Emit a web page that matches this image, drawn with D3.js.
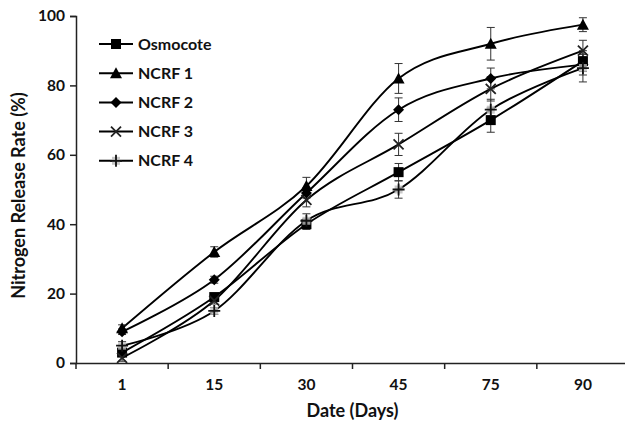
<!DOCTYPE html>
<html>
<head>
<meta charset="utf-8">
<script src="https://cdn.jsdelivr.net/npm/d3@7"></script>
<style>
  body { margin: 0; background: #fff; }
  text { font-family: Lato, "Open Sans", sans-serif; font-weight: bold; fill: #111; }
</style>
</head>
<body>
<div id="chart"></div>
<script>
// categories and series
const days = ['1', '15', '30', '45', '75', '90'];
const seriesNames = ['Osmocote', 'NCRF 1', 'NCRF 2', 'NCRF 3', 'NCRF 4'];
const osmocote = [3, 19, 40, 55, 70, 87];
const ncrf1 = [10, 32, 51, 82, 92, 97.5];
const ncrf2 = [9, 24, 49, 73, 82, 86];
const ncrf3 = [1.5, 18, 47, 63, 79, 90];
const ncrf4 = [5, 15, 41, 50, 73, 85];
// standard errors
const osmocoteErr = [1, 1, 1.5, 2.5, 3.5, 3];
const ncrf1Err = [1, 1.5, 2.5, 4.3, 4.7, 2];
const ncrf2Err = [0.8, 1, 1.5, 3.4, 3, 3];
const ncrf3Err = [1, 1, 2, 3.2, 3.5, 3];
const ncrf4Err = [1.2, 1, 2, 2.5, 3, 4];
const yTicks = [0, 20, 40, 60, 80, 100];

const values = [osmocote, ncrf1, ncrf2, ncrf3, ncrf4];
const errors = [osmocoteErr, ncrf1Err, ncrf2Err, ncrf3Err, ncrf4Err];
const series = seriesNames.map((name, i) => ({
  name: name,
  points: days.map((d, j) => ({ day: d, y: values[i][j], err: errors[i][j] }))
}));

const width = 625, height = 427;
const margin = { left: 76, right: -4, top: 16, bottom: 64 };

const svg = d3.select('#chart').append('svg')
  .attr('width', width)
  .attr('height', height);

const x = d3.scaleBand()
  .domain(days)
  .range([margin.left, width - margin.right]);

const y = d3.scaleLinear()
  .domain([0, 100])
  .range([height - margin.bottom, margin.top]);

const cx = d => x(d) + x.bandwidth() / 2;

// axes
const yAxis = svg.append('g')
  .attr('transform', `translate(${margin.left},0)`)
  .call(d3.axisLeft(y).tickValues(yTicks).tickSize(6).tickPadding(5));

const xAxis = svg.append('g')
  .attr('transform', `translate(0,${y(0)})`)
  .call(d3.axisBottom(x).tickSize(0).tickPadding(16));

// tick marks sit between the categories
xAxis.selectAll('.tick-between')
  .data(days.slice(1).concat(['__start']))
  .enter().append('line')
  .attr('x1', d => d === '__start' ? margin.left : x(d))
  .attr('x2', d => d === '__start' ? margin.left : x(d))
  .attr('y1', 0)
  .attr('y2', 6)
  .attr('stroke', '#222')
  .attr('stroke-width', 1.5);

svg.selectAll('.domain').attr('stroke', '#222').attr('stroke-width', 1.5);
yAxis.selectAll('.tick line').attr('stroke', '#222').attr('stroke-width', 1.5);
svg.selectAll('.tick text').style('font-size', '15.5px').attr('fill', '#111');

// axis titles
svg.append('text')
  .attr('x', (margin.left + width - margin.right) / 2)
  .attr('y', 417)
  .attr('text-anchor', 'middle')
  .style('font-size', '18px')
  .text('Date (Days)');

svg.append('text')
  .attr('transform', `translate(25,${(y(0) + y(100)) / 2 + 6}) rotate(-90)`)
  .attr('text-anchor', 'middle')
  .style('font-size', '18px')
  .text('Nitrogen Release Rate (%)');

// lines
const line = d3.line()
  .x(p => cx(p.day))
  .y(p => y(p.y))
  .curve(d3.curveCardinal.tension(0));

svg.append('g').selectAll('path')
  .data(series)
  .enter().append('path')
  .attr('d', s => line(s.points))
  .attr('fill', 'none')
  .attr('stroke', '#000')
  .attr('stroke-width', 1.9);

// error bars
const errG = svg.append('g')
  .attr('stroke', '#333')
  .attr('stroke-width', 1);

series.forEach(s => {
  s.points.forEach(p => {
    const px = cx(p.day), top = y(p.y + p.err), bot = y(p.y - p.err);
    errG.append('line').attr('x1', px).attr('x2', px).attr('y1', top).attr('y2', bot);
    errG.append('line').attr('x1', px - 4).attr('x2', px + 4).attr('y1', top).attr('y2', top);
    errG.append('line').attr('x1', px - 4).attr('x2', px + 4).attr('y1', bot).attr('y2', bot);
  });
});

// markers
function drawMarker(g, i) {
  if (i === 0) {
    g.append('rect').attr('x', -5).attr('y', -5).attr('width', 10).attr('height', 10).attr('fill', '#000');
  } else if (i === 1) {
    g.append('path').attr('d', 'M0,-6L6,5L-6,5Z').attr('fill', '#000');
  } else if (i === 2) {
    g.append('path').attr('d', 'M0,-5.5L5.5,0L0,5.5L-5.5,0Z').attr('fill', '#000');
  } else if (i === 3) {
    g.append('path').attr('d', 'M-5,-5L5,5M-5,5L5,-5').attr('stroke', '#222').attr('stroke-width', 1.8).attr('fill', 'none');
  } else {
    g.append('rect').attr('x', -4).attr('y', -4).attr('width', 8).attr('height', 8).attr('fill', '#bbb').attr('opacity', 0.8);
    g.append('path').attr('d', 'M-6,0L6,0M0,-6L0,6').attr('stroke', '#111').attr('stroke-width', 1.8).attr('fill', 'none');
  }
}

series.forEach((s, i) => {
  s.points.forEach(p => {
    const g = svg.append('g').attr('transform', `translate(${cx(p.day)},${y(p.y)})`);
    drawMarker(g, i);
  });
});

// legend
const legend = svg.append('g').attr('transform', 'translate(99,44)');
series.forEach((s, i) => {
  const row = legend.append('g').attr('transform', `translate(0,${i * 29.2})`);
  row.append('line').attr('x1', 0).attr('x2', 34).attr('y1', 0).attr('y2', 0)
    .attr('stroke', '#000').attr('stroke-width', 2);
  drawMarker(row.append('g').attr('transform', 'translate(17,0)'), i);
  row.append('text')
    .attr('x', 39)
    .attr('y', 5.5)
    .style('font-size', '16px')
    .text(s.name);
});
</script>
</body>
</html>
